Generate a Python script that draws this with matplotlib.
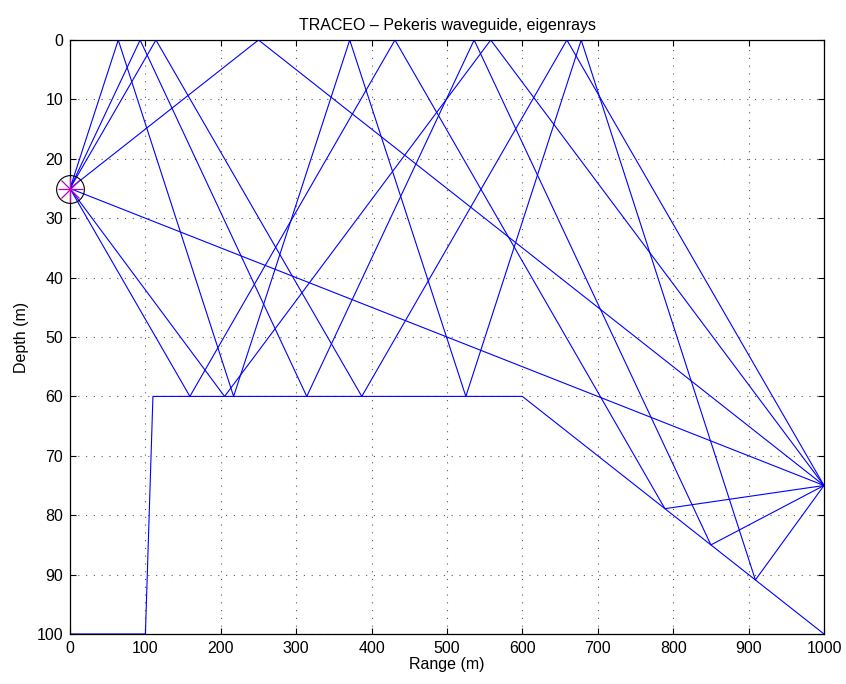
import matplotlib
matplotlib.use('Agg')
import matplotlib.pyplot as plt

plt.rcParams['font.family'] = ['Liberation Sans', 'DejaVu Sans']

# Bathymetry (range m, depth m)
bathy_r = [0, 100, 110, 600, 1000]
bathy_z = [100, 100, 60, 60, 100]

# Source / receiver
src_r, src_z = 0, 25

# Eigenrays: reflection points
ray1_r = [0, 64, 217, 371, 525, 678, 909, 1000]
ray1_z = [25, 0, 60, 0, 60, 0, 90.9, 75]
ray2_r = [0, 93, 314, 536, 850, 1000]
ray2_z = [25, 0, 60, 0, 85, 75]
ray3_r = [0, 114, 387, 659, 1000]
ray3_z = [25, 0, 60, 0, 75]
ray4_r = [0, 250, 1000]
ray4_z = [25, 0, 75]
ray5_r = [0, 1000]
ray5_z = [25, 75]
ray6_r = [0, 159, 431, 789, 1000]
ray6_z = [25, 60, 0, 78.9, 75]
ray7_r = [0, 205, 558, 1000]
ray7_z = [25, 60, 0, 75]

rays = [(ray1_r, ray1_z), (ray2_r, ray2_z), (ray3_r, ray3_z), (ray4_r, ray4_z),
        (ray5_r, ray5_z), (ray6_r, ray6_z), (ray7_r, ray7_z)]

fig = plt.figure(figsize=(8.46, 6.84), dpi=100)
ax = fig.add_axes([70/846, 1 - 634/684, 754/846, 594/684])

for r, z in rays:
    ax.plot(r, z, color='b', linewidth=0.8)
ax.plot(bathy_r, bathy_z, color='b', linewidth=0.8)

# source marker: black circle with magenta asterisk
ax.plot(src_r, src_z, 'o', markersize=20, markerfacecolor='none',
        markeredgecolor='k', markeredgewidth=0.8, clip_on=False, zorder=5)
ax.plot(src_r, src_z, '+', markersize=18, color='m', markeredgewidth=0.9,
        clip_on=False, zorder=6)
ax.plot(src_r, src_z, 'x', markersize=12.5, color='m', markeredgewidth=0.9,
        clip_on=False, zorder=6)

ax.set_xlim(0, 1000)
ax.set_ylim(100, 0)
ax.set_xticks(range(0, 1001, 100))
ax.set_yticks(range(0, 101, 10))
ax.tick_params(direction='in', length=4, width=0.8, top=True, right=True,
               labelsize=11.5, pad=5)
for s in ax.spines.values():
    s.set_linewidth(0.9)
ax.grid(True, color='0.35', linestyle=(0, (1, 6)), linewidth=0.8)

ax.set_xlabel('Range (m)', fontsize=11.5, labelpad=1)
ax.set_ylabel('Depth (m)', fontsize=11.5, labelpad=5)
ax.set_title('TRACEO – Pekeris waveguide, eigenrays', fontsize=11.5, pad=7)

plt.savefig('out.png', dpi=100)
